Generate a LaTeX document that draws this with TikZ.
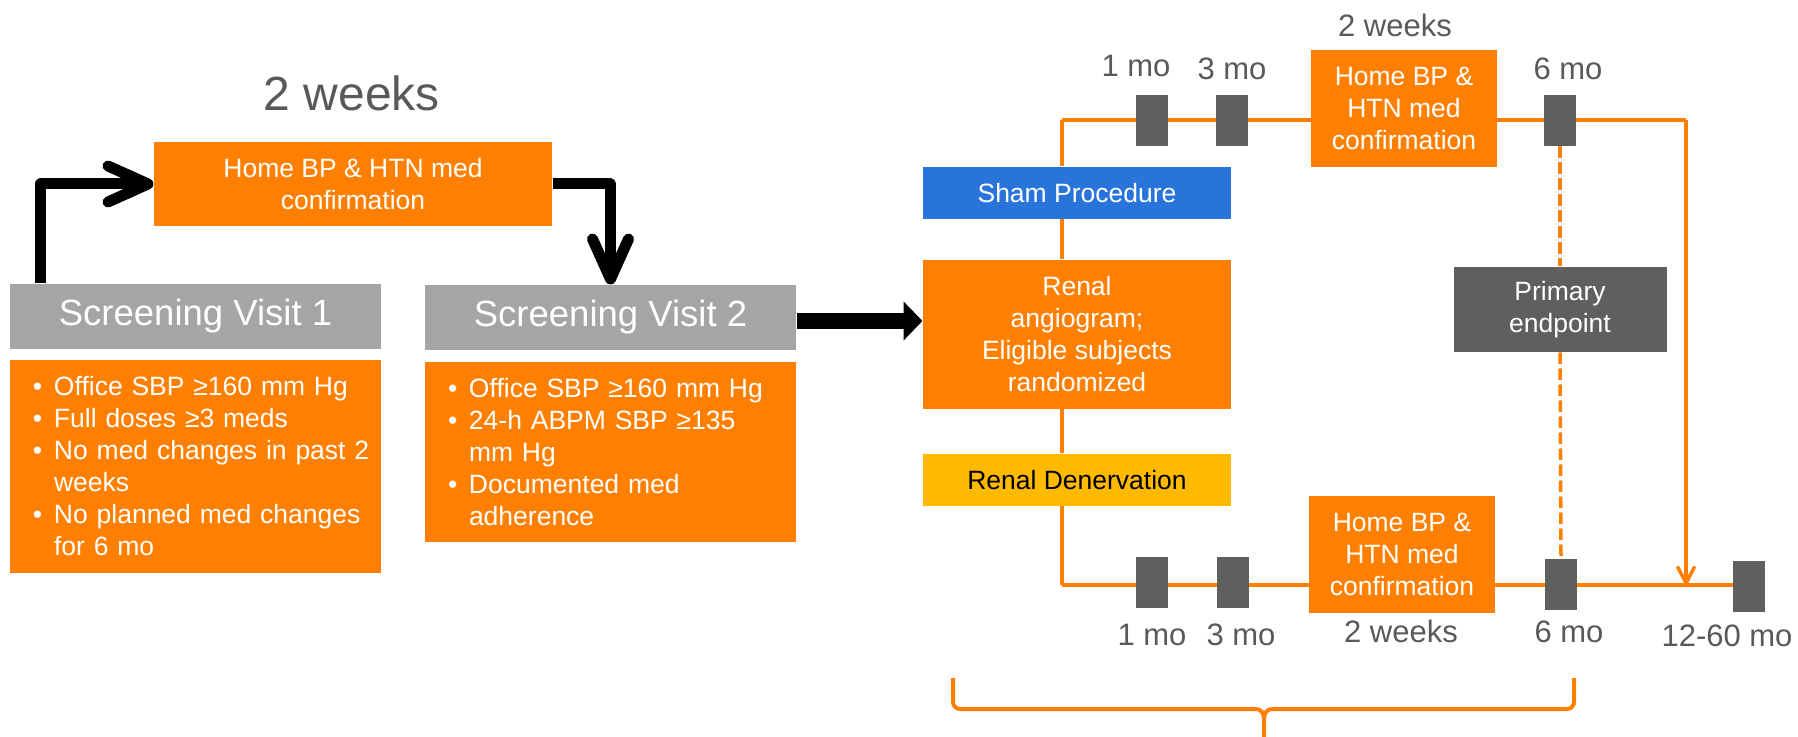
\documentclass[tikz,border=0pt]{standalone}
\usepackage{fontspec}
\setmainfont{Liberation Sans}
\usetikzlibrary{arrows.meta,backgrounds}
\definecolor{ora}{HTML}{FF8000}
\definecolor{svgray}{HTML}{A5A5A8}
\definecolor{dgray}{HTML}{5F5F5F}
\definecolor{tgray}{HTML}{595959}
\definecolor{bblue}{HTML}{2874DA}
\definecolor{yel}{HTML}{FFBA00}
\newcommand{\bul}{\makebox[8.4pt][l]{•}}
\newcommand{\nob}{\hspace*{8.4pt}}
\begin{document}
\begin{tikzpicture}[x=0.4pt,y=-0.4pt,
  box/.style={rectangle, inner sep=0pt, align=center, text=white, font=\fontsize{10.6}{12.8}\selectfont},
  obox/.style={box, fill=ora},
  svbox/.style={box, fill=svgray, minimum width=148.4pt, minimum height=26pt, font=\fontsize{14.6}{17}\selectfont},
  listbox/.style={obox, minimum width=148.4pt, text width=130pt, align=left, inner xsep=9.2pt},
  wide/.style={minimum width=123.2pt},
  homebox/.style={obox, minimum width=74.4pt, minimum height=46.8pt},
  marker/.style={rectangle, fill=dgray, minimum width=12.8pt, minimum height=20.4pt, inner sep=0pt},
  lab/.style={text=tgray, inner sep=0pt, font=\fontsize{12.4}{14}\selectfont},
  oline/.style={draw=ora, line width=1.4pt},
  dashline/.style={oline, dash pattern=on 4.6pt off 1.8pt},
  brace/.style={draw=ora, line width=1.6pt, line join=round},
  barrow/.style={draw=black, line width=4.4pt, line join=round, -{Straight Barb[length=16pt,width=14.4pt,round]}},
  bigarrow/.style={draw=black, line width=6.7pt, -{Triangle[length=7.6pt,width=15.2pt]}},
  darrow/.style={oline, -{Straight Barb[length=6.4pt,width=6.6pt,round]}}
]
\useasboundingbox (0,0) rectangle (1798,737);

% left part
\node[lab, font=\fontsize{19.2}{22}\selectfont] (wk1) at (352,93.5) {2 weeks};
\node[obox, minimum width=159.2pt, minimum height=33.6pt] (home1) at (353,184) {Home BP \& HTN med\\confirmation};
\node[svbox] (sv1) at (195.5,316.5) {Screening Visit 1};
\node[svbox] (sv2) at (610.5,317.5) {Screening Visit 2};
\node[listbox, minimum height=85.2pt] (l1) at (195.5,466.5)
  {\mbox{\bul Office SBP ≥160 mm Hg}\\ \mbox{\bul Full doses ≥3 meds}\\ \mbox{\bul No med changes in past 2}\\ \mbox{\nob weeks}\\ \mbox{\bul No planned med changes}\\ \mbox{\nob for 6 mo}};
\node[listbox, minimum height=72pt] (l2) at (610.5,452)
  {\mbox{\bul Office SBP ≥160 mm Hg}\\ \mbox{\bul 24-h ABPM SBP ≥135}\\ \mbox{\nob mm Hg}\\ \mbox{\bul Documented med}\\ \mbox{\nob adherence}};

\draw[barrow] ([xshift=12.6pt]sv1.north west) |- (home1.west);
\draw[barrow] (home1.east) -| (sv2.north);

% right part
\node[box, fill=bblue, wide, minimum height=20.8pt] (sham) at (1077,193) {Sham Procedure};
\node[obox, wide, minimum height=59.6pt] (renal) at (1077,334.5) {Renal\\angiogram;\\Eligible subjects\\randomized};
\node[box, fill=yel, text=black, wide, minimum height=20.8pt] (rdn) at (1077,480) {Renal Denervation};
\node[homebox] (home2) at (1404,108.5) {Home BP \&\\HTN med\\confirmation};
\node[homebox] (home3) at (1402,554.5) {Home BP \&\\HTN med\\confirmation};
\node[box, fill=dgray, minimum width=85.2pt, minimum height=34pt] (pe) at (1560,309.5) {Primary\\endpoint};

\node[marker] (m1t) at (1152,121) {};
\node[marker] (m3t) at (1232,121) {};
\node[marker] (m6t) at (1560,120.5) {};
\node[marker] (m1b) at (1152,583) {};
\node[marker] (m3b) at (1233,583) {};
\node[marker] (m6b) at (1561,584.5) {};
\node[marker] (m12b) at (1749,586.5) {};

\node[lab] (wk2) at (1395,25.5) {2 weeks};
\node[lab] (t1) at (1136,66) {1 mo};
\node[lab] (t3) at (1232,69) {3 mo};
\node[lab] (t6) at (1568,69) {6 mo};
\node[lab] (b1) at (1152,635) {1 mo};
\node[lab] (b3) at (1241,635) {3 mo};
\node[lab] (wk3) at (1401,631) {2 weeks};
\node[lab] (b6) at (1569,632) {6 mo};
\node[lab] (b12) at (1727,636) {12-60 mo};

\draw[bigarrow] ([yshift=-1.4pt]sv2.east) -- ([yshift=-1.4pt]sv2.east -| renal.west);

\coordinate (tl) at (1062,120);
\coordinate (tr) at (1686,120);
\coordinate (bl) at (1062,585);

\begin{scope}[on background layer]
\draw[oline] (tl) -- (tr);
\draw[oline] (tl) -- (sham.north -| tl);
\draw[oline] (sham.south -| tl) -- (renal.north -| tl);
\draw[oline] (renal.south -| tl) -- (rdn.north -| tl);
\draw[oline] (rdn.south -| tl) -- (bl);
\draw[oline] (bl) -- (bl -| m12b.center);
\end{scope}
\draw[darrow] (tr) -- (tr |- bl);
\draw[dashline] (m6t.south) -- (m6t.south |- pe.north);
\draw[dashline] (pe.south -| m6t.south) -- (m6b.north);

% brace
\draw[brace] (953,678) -- (953,702) to[out=-90,in=180] (960,709) -- (1256,709) to[out=0,in=90] (1264,718) -- (1264,737);
\draw[brace] (1574,678) -- (1574,702) to[out=-90,in=0] (1567,709) -- (1272,709) to[out=180,in=90] (1264,718);
\end{tikzpicture}
\end{document}
